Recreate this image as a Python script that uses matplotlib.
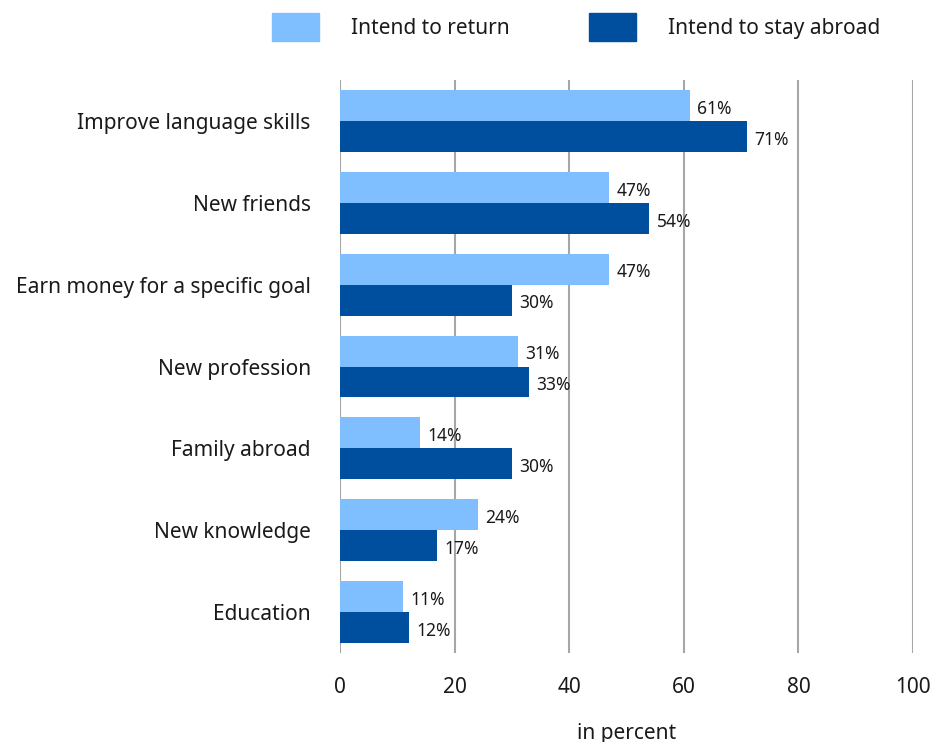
import matplotlib
matplotlib.use("Agg")
import matplotlib.pyplot as plt
import numpy as np
from matplotlib.patches import Patch

plt.rcParams['font.family'] = ['Noto Sans', 'DejaVu Sans']

categories = ["Improve language skills", "New friends", "Earn money for a specific goal",
              "New profession", "Family abroad", "New knowledge", "Education"]
intend_return = [61, 47, 47, 31, 14, 24, 11]
stay_abroad = [71, 54, 30, 33, 30, 17, 12]
xticks = [0, 20, 40, 60, 80, 100]

c_light = "#80BFFF"
c_dark = "#004F9F"
tc = '#1a1a1a'

fig = plt.figure(figsize=(9.35, 7.42), dpi=100)
ax = fig.add_axes([340/935, 1-653/742, 573/935, 573/742])

y = np.arange(len(categories))
h = 0.378
ax.barh(y - h/2, intend_return, height=h, color=c_light, zorder=3)
ax.barh(y + h/2, stay_abroad, height=h, color=c_dark, zorder=3)

for yi, v in zip(y, intend_return):
    ax.text(v + 1.3, yi - h/2 + 0.04, f"{v}%", va='center', ha='left', fontsize=12.5, color=tc)
for yi, v in zip(y, stay_abroad):
    ax.text(v + 1.3, yi + h/2 + 0.04, f"{v}%", va='center', ha='left', fontsize=12.5, color=tc)

ax.set_xlim(0, 100)
ax.set_ylim(len(categories) - 0.5, -0.5)
ax.set_xticks(xticks)
ax.set_xticklabels([str(t) for t in xticks], fontsize=15, color=tc)
ax.set_yticks(y)
ax.set_yticklabels(categories, fontsize=15, color=tc)
ax.tick_params(axis='y', length=0, pad=21)
ax.tick_params(axis='x', length=0, pad=17)
ax.grid(axis='x', color='#a6a6a6', linewidth=1.5, zorder=0)
for s in ax.spines.values():
    s.set_visible(False)
ax.set_xlabel("in percent", fontsize=15, color=tc, labelpad=18)

handles = [Patch(color=c_light, label="Intend to return"), Patch(color=c_dark, label="Intend to stay abroad")]
fig.legend(handles=handles, loc='upper left', bbox_to_anchor=(272/935, 1-13/742), ncol=2, frameon=False,
           fontsize=15, handlelength=2.26, handleheight=1.7, columnspacing=3.8, handletextpad=1.54,
           borderpad=0, borderaxespad=0, labelcolor=tc)

fig.savefig("out.png", dpi=100)
